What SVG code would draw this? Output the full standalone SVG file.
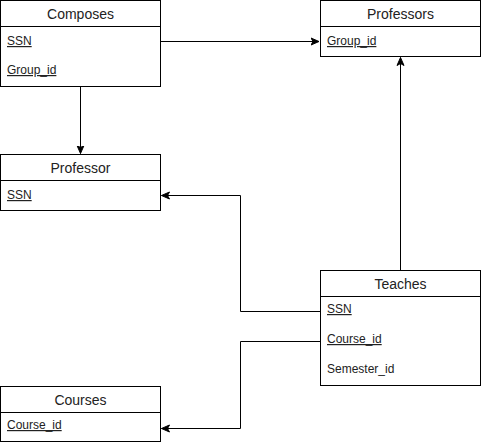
<svg xmlns="http://www.w3.org/2000/svg" width="481" height="446" viewBox="0 0 481 446">
<style>
.box{fill:#fff;stroke:#000;stroke-width:1}
.title{font-family:"Liberation Sans",Arial,sans-serif;font-size:14px;fill:#222;text-anchor:middle}
.row{font-family:"Liberation Sans",Arial,sans-serif;font-size:12px;fill:#222}
.u{text-decoration:underline}
.edge{fill:none;stroke:#000;stroke-width:1}
</style>
<defs>
<marker id="arr" markerUnits="userSpaceOnUse" markerWidth="10" markerHeight="10" viewBox="0 0 10 10" refX="8" refY="5" orient="auto">
<path d="M0,1.5 L8,5 L0,8.5 L2,5 Z" fill="#000" stroke="#000" stroke-width="1"/>
</marker>
</defs>
<g id="connectors">
<path class="edge" d="M160.5 41.5 H319" marker-end="url(#arr)"/>
<path class="edge" d="M80.5 86.5 V153.5" marker-end="url(#arr)"/>
<path class="edge" d="M400.5 270.5 V57.5" marker-end="url(#arr)"/>
<path class="edge" d="M320.5 311.5 H240.5 V195.5 H161.5" marker-end="url(#arr)"/>
<path class="edge" d="M320.5 341.5 H240.5 V428.5 H161.5" marker-end="url(#arr)"/>
</g>
<g id="composes">
<rect class="box" x="0.5" y="0.5" width="160" height="86"/>
<line class="edge" x1="0.5" y1="26.5" x2="160.5" y2="26.5"/>
<text class="title" x="80.5" y="19">Composes</text>
<text class="row u" x="7" y="45">SSN</text>
<text class="row u" x="7" y="74">Group_id</text>
</g>
<g id="professors">
<rect class="box" x="320.5" y="0.5" width="160" height="56"/>
<line class="edge" x1="320.5" y1="26.5" x2="480.5" y2="26.5"/>
<text class="title" x="400.5" y="19">Professors</text>
<text class="row u" x="327" y="45">Group_id</text>
</g>
<g id="professor">
<rect class="box" x="0.5" y="154.5" width="160" height="56"/>
<line class="edge" x1="0.5" y1="180.5" x2="160.5" y2="180.5"/>
<text class="title" x="80.5" y="173">Professor</text>
<text class="row u" x="7" y="199">SSN</text>
</g>
<g id="teaches">
<rect class="box" x="320.5" y="270.5" width="160" height="115"/>
<line class="edge" x1="320.5" y1="296.5" x2="480.5" y2="296.5"/>
<text class="title" x="400.5" y="289">Teaches</text>
<text class="row u" x="327" y="313">SSN</text>
<text class="row u" x="327" y="343">Course_id</text>
<text class="row" x="327" y="373">Semester_id</text>
</g>
<g id="courses">
<rect class="box" x="0.5" y="386.5" width="160" height="55"/>
<line class="edge" x1="0.5" y1="412.5" x2="160.5" y2="412.5"/>
<text class="title" x="80.5" y="405">Courses</text>
<text class="row u" x="7" y="429">Course_id</text>
</g>
</svg>
